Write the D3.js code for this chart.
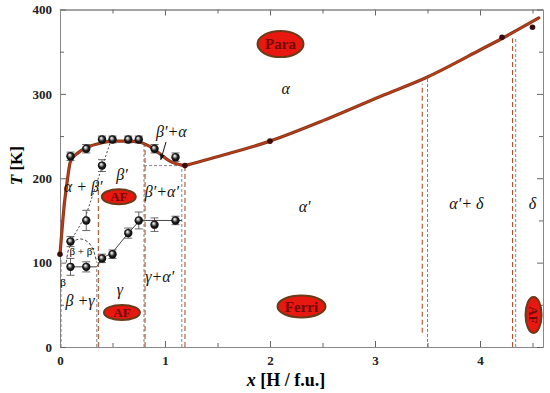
<!DOCTYPE html>
<html>
<head>
<meta charset="utf-8">
<script src="https://cdn.jsdelivr.net/npm/d3@7"></script>
<style>
  body { margin: 0; background: #fff; }
  svg { display: block; }
  .tick text { font-family: "Liberation Serif", serif; font-weight: bold; font-size: 13px; fill: #222; }
  .phase { font-family: "Liberation Serif", serif; font-style: italic; font-size: 16px; fill: #111; }
</style>
</head>
<body>
<div id="chart"></div>
<script>
// ---- data ----
var xMajor = [0, 1, 2, 3, 4];
var xMinor = [0.5, 1.5, 2.5, 3.5, 4.5];
var yMajor = [0, 100, 200, 300, 400];
var yMinor = [50, 150, 250, 350];

// transition line (thick brown), split at the kink
var curveLeft = [[0,110],[0.02,140],[0.04,168],[0.064,192],[0.1,220],[0.17,230],[0.25,236],[0.4,242],[0.5,244],[0.65,244],[0.75,243],[0.85,238],[0.95,229],[1.05,220],[1.19,215]];
var curveRight = [[1.19,215],[1.6,229],[2.0,244],[2.5,268],[3.05,297],[3.5,320],[4.0,352],[4.2,365],[4.56,390]];

// measured points with error bars [x, T, err]
var ballPts = [
  [0.1,226,5],[0.25,235,5],[0.4,246,4],[0.5,246,4],[0.65,246,4],[0.75,246,4],[0.9,235,5],[1.1,225,5],
  [0.4,215,7],[0.25,150,12],[0.1,125,6],[0.1,95,10],[0.25,95,6],
  [0.4,105,5],[0.5,110,5],[0.65,135,6],[0.75,150,10],[0.9,145,8],[1.1,150,5]
];
// small dark points on the transition line
var darkPts = [[0,110],[1.19,215],[2.0,244],[4.21,367],[4.5,379]];

// thin lines
var solidLine = [[0.1,95],[0.35,95],[0.4,105],[0.5,112],[0.65,135],[0.76,150],[1.16,150]];
var dottedLine = [[0.1,125],[0.25,157],[0.48,243]];
var dome = [[0.06,100],[0.08,115],[0.13,125],[0.2,128],[0.27,124],[0.32,114],[0.35,100]];

// vertical/horizontal boundaries [x1,T1,x2,T2]
var grayDash = [[0.01,0,0.01,103],[0.35,0,0.35,95],[0.8,0,0.8,241],[0.8,215,1.16,215],[1.16,0,1.16,215],[3.5,0,3.5,318],[4.34,0,4.34,366]];
var brownDash = [[0.365,0,0.365,195],[0.81,0,0.81,241],[1.19,0,1.19,215],[3.45,17,3.45,312],[4.31,0,4.31,366]];

// phase labels [text, x, T]
var phaseLabels = [
  ["α", 2.15, 306], ["β′+α", 1.06, 256], ["β′", 0.59, 205], ["α + β′", 0.22, 190],
  ["β′+α′", 0.97, 184], ["α′", 2.33, 167], ["α′+ δ", 3.87, 170], ["δ", 4.5, 170],
  ["β +γ", 0.19, 55], ["γ", 0.57, 68], ["γ+α′", 0.95, 84]
];
var smallLabels = [["β + β′", 0.21, 114], ["β", 0.03, 77]];

// magnetic order ovals [text, x, T, rx(px), ry(px), rotate]
var ovals = [
  ["Para", 2.1, 359, 23, 13, 0], ["AF", 0.56, 178, 17, 7.5, 0], ["AF", 0.59, 41, 18, 7.5, 0],
  ["Ferri", 2.3, 48, 24, 11, 0], ["AF", 4.51, 38, 18, 8, 90]
];

// ---- chart ----
var W = 550, H = 393;
var mLeft = 60, mRight = 543, mTop = 9.5, mBottom = 347;

var x = d3.scaleLinear().domain([0, 4.6]).range([mLeft, mRight]);
var y = d3.scaleLinear().domain([0, 400]).range([mBottom, mTop]);

var svg = d3.select("#chart").append("svg")
  .attr("width", W).attr("height", H);

var defs = svg.append("defs");
var grad = defs.append("radialGradient").attr("id", "ball")
  .attr("cx", "50%").attr("cy", "50%").attr("r", "55%")
  .attr("fx", "38%").attr("fy", "32%");
grad.append("stop").attr("offset", "0%").attr("stop-color", "#ffffff");
grad.append("stop").attr("offset", "22%").attr("stop-color", "#bbbbbb");
grad.append("stop").attr("offset", "55%").attr("stop-color", "#222");
grad.append("stop").attr("offset", "100%").attr("stop-color", "#000");

defs.append("marker").attr("id", "arr")
  .attr("viewBox", "0 0 10 10").attr("refX", 9).attr("refY", 5)
  .attr("markerWidth", 6).attr("markerHeight", 6).attr("orient", "auto")
  .append("path").attr("d", "M0,1 L10,5 L0,9 z").attr("fill", "#111");

// axes: major with labels, minor without, all ticks inward
function styleAxis(g) {
  g.select(".domain").attr("stroke", "#888").attr("stroke-width", 1);
  g.selectAll(".tick line").attr("stroke", "#666");
}
svg.append("g").attr("transform", "translate(0," + mBottom + ")")
  .call(d3.axisBottom(x).tickValues(xMajor).tickFormat(d3.format("d")).tickSizeInner(-6).tickSizeOuter(0).tickPadding(9))
  .call(styleAxis);
svg.append("g").attr("transform", "translate(0," + mBottom + ")")
  .call(d3.axisBottom(x).tickValues(xMinor).tickFormat("").tickSizeInner(-4).tickSizeOuter(0))
  .call(styleAxis);
svg.append("g").attr("transform", "translate(0," + mTop + ")")
  .call(d3.axisTop(x).tickValues(xMajor).tickFormat("").tickSizeInner(-6).tickSizeOuter(0))
  .call(styleAxis);
svg.append("g").attr("transform", "translate(0," + mTop + ")")
  .call(d3.axisTop(x).tickValues(xMinor).tickFormat("").tickSizeInner(-4).tickSizeOuter(0))
  .call(styleAxis);
svg.append("g").attr("transform", "translate(" + mLeft + ",0)")
  .call(d3.axisLeft(y).tickValues(yMajor).tickSizeInner(-6).tickSizeOuter(0).tickPadding(8))
  .call(styleAxis);
svg.append("g").attr("transform", "translate(" + mLeft + ",0)")
  .call(d3.axisLeft(y).tickValues(yMinor).tickFormat("").tickSizeInner(-4).tickSizeOuter(0))
  .call(styleAxis);
svg.append("g").attr("transform", "translate(" + mRight + ",0)")
  .call(d3.axisRight(y).tickValues(yMajor).tickFormat("").tickSizeInner(-6).tickSizeOuter(0))
  .call(styleAxis);
svg.append("g").attr("transform", "translate(" + mRight + ",0)")
  .call(d3.axisRight(y).tickValues(yMinor).tickFormat("").tickSizeInner(-4).tickSizeOuter(0))
  .call(styleAxis);

// axis titles
var xt = svg.append("text").attr("x", 286).attr("y", 386)
  .attr("text-anchor", "middle")
  .style("font-family", "Liberation Serif, serif").style("font-weight", "bold").style("font-size", "18px");
xt.append("tspan").style("font-style", "italic").text("x");
xt.append("tspan").text(" [H / f.u.]");

var yt = svg.append("text").attr("transform", "translate(22," + y(215) + ") rotate(-90)")
  .attr("text-anchor", "middle")
  .style("font-family", "Liberation Serif, serif").style("font-weight", "bold").style("font-size", "17px");
yt.append("tspan").style("font-style", "italic").text("T");
yt.append("tspan").text(" [K]");

// dashed boundaries
svg.append("g").selectAll("line").data(grayDash).enter().append("line")
  .attr("x1", d => x(d[0])).attr("y1", d => y(d[1]))
  .attr("x2", d => x(d[2])).attr("y2", d => y(d[3]))
  .attr("stroke", "#777").attr("stroke-width", 0.9).attr("stroke-dasharray", "3,2");
svg.append("g").selectAll("line").data(brownDash).enter().append("line")
  .attr("x1", d => x(d[0])).attr("y1", d => y(d[1]))
  .attr("x2", d => x(d[2])).attr("y2", d => y(d[3]))
  .attr("stroke", "#b5532e").attr("stroke-width", 1.1).attr("stroke-dasharray", "5,3");

var line = d3.line().x(d => x(d[0])).y(d => y(d[1]));
var curvy = d3.line().x(d => x(d[0])).y(d => y(d[1])).curve(d3.curveCardinal);

svg.append("path").datum(solidLine).attr("d", line)
  .attr("fill", "none").attr("stroke", "#444").attr("stroke-width", 1);
svg.append("path").datum(dottedLine).attr("d", line)
  .attr("fill", "none").attr("stroke", "#333").attr("stroke-width", 0.9).attr("stroke-dasharray", "2,2");
svg.append("path").datum(dome).attr("d", curvy)
  .attr("fill", "none").attr("stroke", "#333").attr("stroke-width", 0.9).attr("stroke-dasharray", "3,2");

// thick transition line
var smoothL = d3.line().x(d => x(d[0])).y(d => y(d[1])).curve(d3.curveMonotoneX);
var smoothR = d3.line().x(d => x(d[0])).y(d => y(d[1])).curve(d3.curveCatmullRom);
[[curveLeft, smoothL], [curveRight, smoothR]].forEach(function(c) {
  svg.append("path").datum(c[0]).attr("d", c[1])
    .attr("fill", "none").attr("stroke", "#8a3a1a").attr("stroke-width", 3.2)
    .attr("stroke-linecap", "round");
  svg.append("path").datum(c[0]).attr("d", c[1])
    .attr("fill", "none").attr("stroke", "#c23a1c").attr("stroke-width", 1.2);
});

// error bars
var eb = svg.append("g").attr("stroke", "#555").attr("stroke-width", 0.9);
ballPts.forEach(function(d) {
  var cx = x(d[0]), y1 = y(d[1] - d[2]), y2 = y(d[1] + d[2]);
  eb.append("line").attr("x1", cx).attr("x2", cx).attr("y1", y1).attr("y2", y2);
  eb.append("line").attr("x1", cx - 4).attr("x2", cx + 4).attr("y1", y1).attr("y2", y1);
  eb.append("line").attr("x1", cx - 4).attr("x2", cx + 4).attr("y1", y2).attr("y2", y2);
});

// spheres
svg.append("g").selectAll("circle").data(ballPts).enter().append("circle")
  .attr("cx", d => x(d[0])).attr("cy", d => y(d[1])).attr("r", 4.2)
  .attr("fill", "url(#ball)");

svg.append("g").selectAll("circle").data(darkPts).enter().append("circle")
  .attr("cx", d => x(d[0])).attr("cy", d => y(d[1])).attr("r", 2.8)
  .attr("fill", "#3a0c0c");

// arrow to the β'+α sliver
svg.append("line")
  .attr("x1", x(1.01)).attr("y1", y(243)).attr("x2", x(0.96)).attr("y2", y(222))
  .attr("stroke", "#111").attr("stroke-width", 1).attr("marker-end", "url(#arr)");

// phase labels
svg.append("g").selectAll("text").data(phaseLabels).enter().append("text")
  .attr("class", "phase")
  .attr("x", d => x(d[1])).attr("y", d => y(d[2]))
  .attr("text-anchor", "middle").attr("dy", "0.35em")
  .text(d => d[0]);
svg.append("g").selectAll("text").data(smallLabels).enter().append("text")
  .attr("x", d => x(d[1])).attr("y", d => y(d[2]))
  .attr("text-anchor", "middle").attr("dy", "0.35em")
  .style("font-family", "Liberation Serif, serif").style("font-size", "11px")
  .text(d => d[0]);

// ovals
var ov = svg.append("g").selectAll("g").data(ovals).enter().append("g")
  .attr("transform", d => "translate(" + x(d[1]) + "," + y(d[2]) + ")");
ov.append("ellipse")
  .attr("rx", d => d[5] ? d[4] : d[3]).attr("ry", d => d[5] ? d[3] : d[4])
  .attr("fill", "#e8170f").attr("stroke", "#6b3b18").attr("stroke-width", 2);
ov.append("text")
  .attr("transform", d => "rotate(" + d[5] + ")")
  .attr("text-anchor", "middle").attr("dy", "0.35em")
  .style("font-family", "Liberation Serif, serif").style("font-weight", "bold")
  .style("font-size", d => d[0] === "AF" ? "13px" : "15px")
  .attr("fill", "#6e0a0a")
  .text(d => d[0]);
</script>
</body>
</html>
